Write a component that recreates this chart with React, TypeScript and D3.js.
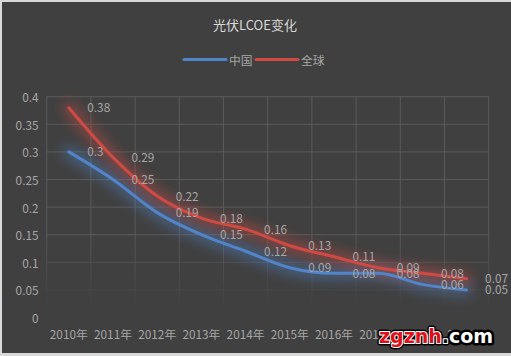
import React from "react";
import * as d3 from "d3";

const years = ["2010年", "2011年", "2012年", "2013年", "2014年", "2015年", "2016年", "2017年", "2018年", "2019年"];
const chinaValues = [0.3, 0.25, 0.19, 0.15, 0.12, 0.09, 0.08, 0.08, 0.06, 0.05];
const globalValues = [0.38, 0.29, 0.22, 0.18, 0.16, 0.13, 0.11, 0.09, 0.08, 0.07];
const yTicks = [0, 0.05, 0.1, 0.15, 0.2, 0.25, 0.3, 0.35, 0.4];
const seriesNames = ["中国", "全球"];

const W = 511;
const H = 356;
const FONT = "'Noto Sans CJK SC', 'Microsoft YaHei', sans-serif";
const BLUE = "#5184c8";
const RED = "#d04a44";
const LABEL = "#a6a6a6";
const FS = 11.8;

export default function App() {
  const x = d3.scaleBand<string>().domain(years).range([46.7, 488.7]);
  const y = d3.scaleLinear().domain([0, 0.4]).range([317.5, 96.7]);
  const cx = (i: number) => (x(years[i]) as number) + x.bandwidth() / 2;
  const line = d3
    .line<number>()
    .x((_, i) => cx(i))
    .y((d) => y(d))
    .curve(d3.curveMonotoneX);

  const series = [
    { name: seriesNames[0], values: chinaValues, color: BLUE },
    { name: seriesNames[1], values: globalValues, color: RED },
  ];

  const gridXs = years.map((yr) => x(yr) as number).concat([x.range()[1]]);

  return (
    <svg width={W} height={H} style={{ position: "absolute", left: 0, top: 0 }}>
      <defs>
        <linearGradient id="gridFade" gradientUnits="userSpaceOnUse" x1="0" y1="96" x2="0" y2="318">
          <stop offset="0" stopColor="#595959" stopOpacity="1" />
          <stop offset="0.62" stopColor="#595959" stopOpacity="1" />
          <stop offset="0.95" stopColor="#595959" stopOpacity="0" />
        </linearGradient>
        <filter id="glow" x="-20%" y="-50%" width="140%" height="200%">
          <feGaussianBlur stdDeviation="6.5" />
        </filter>
      </defs>
      <rect x={0} y={0} width={W} height={H} fill="#d9d9d9" />
      <rect x={2} y={2} width={W - 2} height={351} fill="#404040" />

      <text x={255} y={30} textAnchor="middle" fill="#d9d9d9" fontFamily={FONT} fontSize={13}>
        光伏LCOE变化
      </text>

      {/* legend */}
      <line x1={184} x2={226} y1={59.5} y2={59.5} stroke={BLUE} strokeWidth={3} strokeLinecap="round" />
      <text x={229} y={59.5} dominantBaseline="central" fill={LABEL} fontFamily={FONT} fontSize={FS}>
        {seriesNames[0]}
      </text>
      <line x1={256} x2={298} y1={59.5} y2={59.5} stroke={RED} strokeWidth={3} strokeLinecap="round" />
      <text x={301} y={59.5} dominantBaseline="central" fill={LABEL} fontFamily={FONT} fontSize={FS}>
        {seriesNames[1]}
      </text>

      {/* grid */}
      <g stroke="url(#gridFade)" strokeWidth={1}>
        {yTicks.map((t) => (
          <line key={t} x1={x.range()[0]} x2={x.range()[1]} y1={y(t)} y2={y(t)} />
        ))}
        {gridXs.map((gx, i) => (
          <line key={i} x1={gx} x2={gx} y1={y(0.4)} y2={y(0)} />
        ))}
      </g>

      {/* y labels */}
      {yTicks.map((t) => (
        <text key={t} x={38.5} y={y(t)} textAnchor="end" dominantBaseline="central" fill={LABEL} fontFamily={FONT} fontSize={FS}>
          {String(t)}
        </text>
      ))}

      {/* x labels */}
      {years.map((yr, i) => (
        <text key={yr} x={cx(i)} y={333} textAnchor="middle" dominantBaseline="central" fill={LABEL} fontFamily={FONT} fontSize={FS}>
          {yr}
        </text>
      ))}

      {/* glows */}
      {series.map((s) => (
        <path key={s.name + "g"} d={line(s.values) || ""} fill="none" stroke={s.color} strokeWidth={11} strokeOpacity={0.55} strokeLinecap="round" filter="url(#glow)" />
      ))}
      {series.map((s) => (
        <path key={s.name} d={line(s.values) || ""} fill="none" stroke={s.color} strokeWidth={3} strokeLinecap="round" strokeLinejoin="round" />
      ))}

      {/* data labels */}
      {series.map((s) =>
        s.values.map((v, i) => (
          <text key={s.name + i} x={cx(i) + 18.5} y={y(v) - 1} dominantBaseline="central" fill={LABEL} fontFamily={FONT} fontSize={FS}>
            {String(v)}
          </text>
        ))
      )}

      {/* watermark */}
      <g fontFamily="'DejaVu Sans', sans-serif" fontWeight="bold" fontSize={19}>
        <text x={379} y={343} stroke="#000" strokeWidth={5} strokeLinejoin="round" fill="#000">
          zgznh.com
        </text>
        <text x={379} y={343} stroke="#fff" strokeWidth={2} strokeLinejoin="round" fill="#fff">
          <tspan>zgznh.</tspan>
          <tspan stroke="#000">com</tspan>
        </text>
        <text x={379} y={343}>
          <tspan fill="#e0101a">zgznh</tspan>
          <tspan fill="#111">.</tspan>
          <tspan fill="#fff">com</tspan>
        </text>
      </g>
    </svg>
  );
}
